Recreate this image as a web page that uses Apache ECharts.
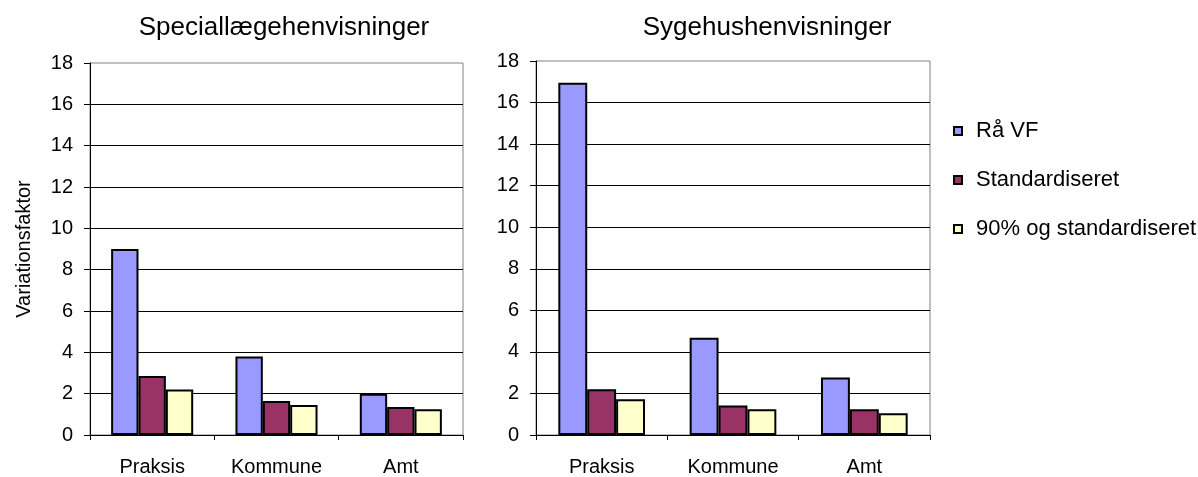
<!DOCTYPE html>
<html>
<head>
<meta charset="utf-8">
<script src="https://cdn.jsdelivr.net/npm/echarts@6/dist/echarts.min.js"></script>
<style>
  html, body { margin: 0; padding: 0; background: #fff; }
  #chart { width: 1198px; height: 477px; }
</style>
</head>
<body>
<div id="chart"></div>
<script>
// kategorier
const categories = ["Praksis", "Kommune", "Amt"];
const seriesNames = ["Rå VF", "Standardiseret", "90% og standardiseret"];
const yTicks = [0, 2, 4, 6, 8, 10, 12, 14, 16, 18];

// Speciallægehenvisninger
const specRaa = [9.0, 3.8, 2.0];
const specStd = [2.85, 1.65, 1.35];
const spec90 = [2.2, 1.45, 1.25];

// Sygehushenvisninger
const sygRaa = [16.95, 4.68, 2.77];
const sygStd = [2.2, 1.42, 1.24];
const syg90 = [1.72, 1.24, 1.05];

const colors = ["#9999ff", "#993366", "#ffffcc"];
const font = "Liberation Sans, Arial, sans-serif";

const chart = echarts.init(document.getElementById("chart"));

function xAxis(gridIndex) {
  return {
    type: "category",
    gridIndex: gridIndex,
    data: categories,
    axisLine: { lineStyle: { color: "#000", width: 1 } },
    axisTick: { show: true, length: 5, lineStyle: { color: "#000" } },
    axisLabel: { color: "#000", fontSize: 20, fontFamily: font, margin: 22, interval: 0 },
  };
}

function yAxis(gridIndex, name) {
  return {
    type: "value",
    gridIndex: gridIndex,
    min: yTicks[0],
    max: yTicks[yTicks.length - 1],
    interval: 2,
    name: name,
    nameLocation: "middle",
    nameGap: 56,
    nameTextStyle: { color: "#000", fontSize: 20, fontFamily: font },
    axisLine: { show: true, lineStyle: { color: "#000", width: 1 } },
    axisTick: { show: true, length: 6, lineStyle: { color: "#000" } },
    axisLabel: { color: "#000", fontSize: 20, fontFamily: font, margin: 17 },
    splitLine: {
      show: true,
      showMaxLine: false,
      lineStyle: { color: "#000", width: 1 },
    },
  };
}

function bars(name, data, idx, axisIndex) {
  return {
    name: name,
    type: "bar",
    xAxisIndex: axisIndex,
    yAxisIndex: axisIndex,
    data: data,
    barGap: "0%",
    barCategoryGap: "34%",
    itemStyle: { color: colors[idx], borderColor: "#000", borderWidth: 2 },
    emphasis: { disabled: true },
  };
}

const option = {
  animation: false,
  backgroundColor: "#fff",
  title: [
    {
      text: "Speciallægehenvisninger",
      left: 279,
      top: 10,
      textAlign: "center",
      textStyle: { color: "#000", fontSize: 26, fontWeight: "normal", fontFamily: font },
    },
    {
      text: "Sygehushenvisninger",
      left: 762,
      top: 10,
      textAlign: "center",
      textStyle: { color: "#000", fontSize: 26, fontWeight: "normal", fontFamily: font },
    },
  ],
  legend: {
    orient: "vertical",
    left: 953,
    top: 120,
    padding: 0,
    itemWidth: 8,
    itemHeight: 8,
    itemGap: 27,
    icon: "rect",
    data: seriesNames,
    textStyle: {
      color: "#000",
      fontSize: 22,
      fontFamily: font,
      lineHeight: 22,
      padding: [0, 0, 0, 9],
    },
  },
  grid: [
    { left: 90, top: 63, width: 373, height: 374, show: true, borderColor: "#808080", borderWidth: 1 },
    { left: 536, top: 61, width: 394, height: 377, show: true, borderColor: "#808080", borderWidth: 1 },
  ],
  xAxis: [xAxis(0), xAxis(1)],
  yAxis: [yAxis(0, "Variationsfaktor"), yAxis(1, "")],
  series: [
    bars(seriesNames[0], specRaa, 0, 0),
    bars(seriesNames[1], specStd, 1, 0),
    bars(seriesNames[2], spec90, 2, 0),
    bars(seriesNames[0], sygRaa, 0, 1),
    bars(seriesNames[1], sygStd, 1, 1),
    bars(seriesNames[2], syg90, 2, 1),
  ],
};

chart.setOption(option);
</script>
</body>
</html>
